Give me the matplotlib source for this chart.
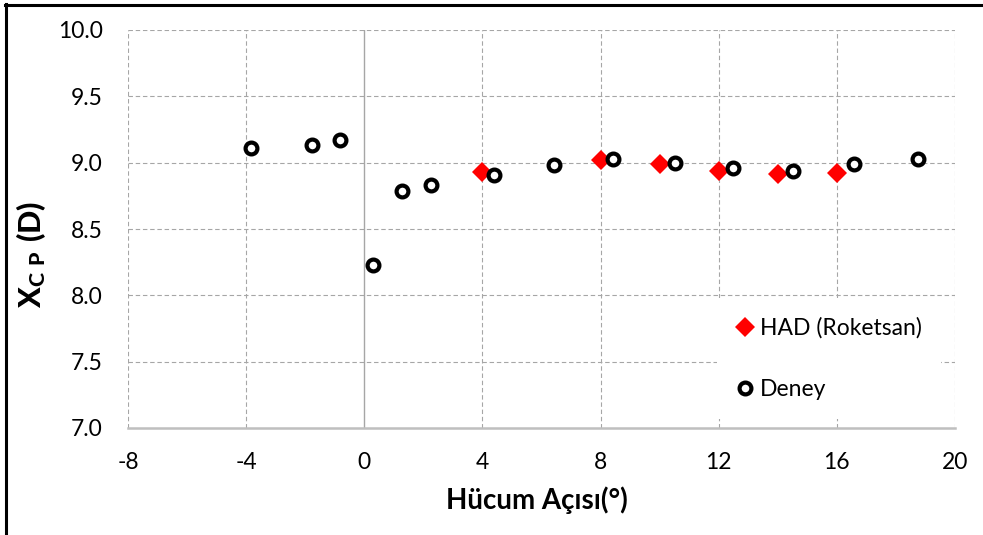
import matplotlib
matplotlib.use('Agg')
import matplotlib.pyplot as plt
from matplotlib.lines import Line2D

# data
had_x = [4, 8, 10, 12, 14, 16]
had_y = [8.93, 9.02, 8.99, 8.94, 8.915, 8.925]

deney_x = [-3.85, -1.77, -0.83, 0.30, 1.29, 2.27, 4.38, 6.42, 8.42, 10.53, 12.47, 14.52, 16.57, 18.76]
deney_y = [9.11, 9.135, 9.17, 8.23, 8.79, 8.83, 8.91, 8.98, 9.025, 9.0, 8.96, 8.94, 8.99, 9.025]

x_ticks = [-8, -4, 0, 4, 8, 12, 16, 20]
y_ticks = [7.0, 7.5, 8.0, 8.5, 9.0, 9.5, 10.0]

plt.rcParams['font.family'] = ['Lato', 'DejaVu Sans']
plt.rcParams['axes.unicode_minus'] = False
plt.rcParams['mathtext.fontset'] = 'custom'
plt.rcParams['mathtext.rm'] = 'Lato'
plt.rcParams['mathtext.bf'] = 'Lato:black'

fig = plt.figure(figsize=(9.83, 5.35), dpi=100)
ax = fig.add_axes([128/983, 1-428/535, (955-128)/983, (428-30)/535])

grid_c = '#A6A6A6'
for v in x_ticks:
    if v == 0:
        ax.axvline(v, color=grid_c, lw=1.0, zorder=1)
    else:
        ax.axvline(v, color=grid_c, lw=0.8, ls=(0, (4, 2.5)), zorder=1)
for v in y_ticks[1:]:
    ax.axhline(v, color=grid_c, lw=0.8, ls=(0, (4, 2.5)), zorder=1)

ax.plot(had_x, had_y, 'D', color='#FF0000', ms=10, mew=0, ls='none',
        label='HAD (Roketsan)', zorder=3)
ax.plot(deney_x, deney_y, 'o', mfc='white', mec='black', ms=8.5, mew=3,
        ls='none', label='Deney', zorder=4)

ax.set_xlim(-8, 20)
ax.set_ylim(7.0, 10.0)
ax.set_xticks(x_ticks)
ax.set_yticks(y_ticks)
ax.set_yticklabels(['%.1f' % v for v in y_ticks])
ax.tick_params(length=0, labelsize=16.5, colors='black')
ax.tick_params(axis='x', pad=17)
ax.tick_params(axis='y', pad=18)

for s in ['left', 'top', 'right']:
    ax.spines[s].set_visible(False)
ax.spines['bottom'].set_color('#BFBFBF')
ax.spines['bottom'].set_linewidth(1.8)
ax.spines['bottom'].set_zorder(2)

ax.set_xlabel('Hücum Açısı(°)', fontsize=20, fontweight='bold')
ax.xaxis.set_label_coords(0.494, -0.148)
ax.set_ylabel(r'$\mathbf{X_{C\ P}\ (D)}$', fontsize=22)
ax.yaxis.set_label_coords(-0.097, 0.437)

leg = ax.legend(loc='upper left', bbox_to_anchor=((717-128)/827, (428-298)/398),
                fontsize=16.5, frameon=True, facecolor='white', edgecolor='none',
                framealpha=1, labelspacing=1.75, handlelength=0.8,
                handletextpad=0.26, borderpad=0.83, borderaxespad=0)
leg.get_frame().set_boxstyle('square', pad=0)
leg.set_zorder(5)

# frame lines of the original picture (top and left)
fig.add_artist(Line2D([5/983, 1], [1-4.5/535, 1-4.5/535], color='black', lw=2.2))
fig.add_artist(Line2D([6/983, 6/983], [0, 1-3.5/535], color='black', lw=2.2))

fig.savefig('out.png', dpi=100, facecolor='white')
